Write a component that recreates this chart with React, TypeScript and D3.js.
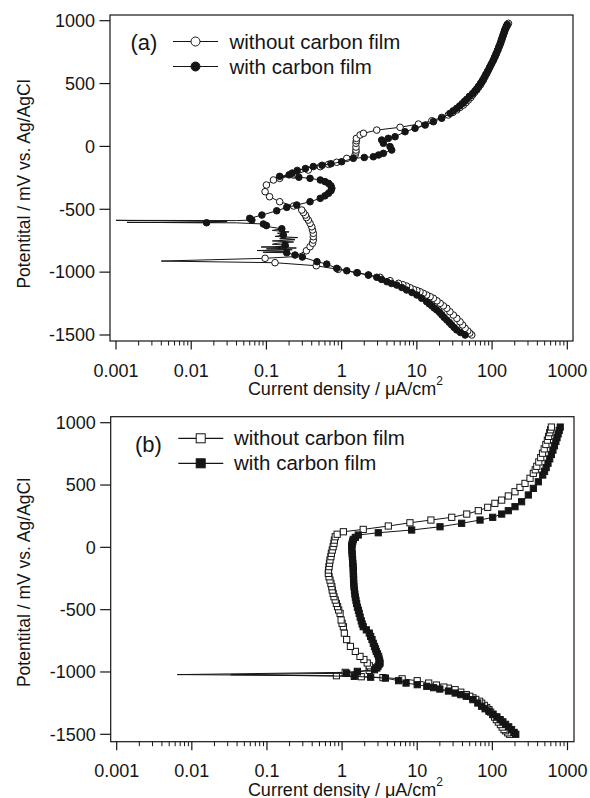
import React from "react";
import * as d3 from "d3";

type Pt = number[]; // [current µA/cm², potential mV, marker flag (0 = no marker)]

const xTickValues = [0.001, 0.01, 0.1, 1, 10, 100, 1000];
const xTickLabels = ["0.001", "0.01", "0.1", "1", "10", "100", "1000"];
const yTickValues = [1000, 500, 0, -500, -1000, -1500];
const yTickLabels = ["1000", "500", "0", "-500", "-1000", "-1500"];
const seriesNames = ["without carbon film", "with carbon film"];
const panelLabels = ["(a)", "(b)"];
const xTitle = "Current density / μA/cm";
const yTitle = "Potentital / mV vs. Ag/AgCl";

const aWithout: Pt[] = [
  [53.7, -1500], [50.5, -1485], [47.5, -1468], [43.8, -1447], [40.5, -1420], [37.5, -1395], [34, -1368],
  [30.5, -1341], [27.5, -1315], [25, -1288], [22.5, -1268], [20.4, -1248], [18.5, -1228], [16.6, -1208],
  [15, -1195], [13.5, -1182], [12.2, -1169], [11, -1156], [10, -1146], [9, -1137], [8.1, -1124], [7.3, -1111],
  [6.5, -1100], [5.7, -1089], [4.4, -1068], [3.24, -1041], [2.27, -1023], [1.59, -1005], [0.9, -978],
  [0.46, -949], [0.13, -925], [0.004, -912, 0], [0.096, -890], [0.23, -877, 0], [0.34, -830], [0.38, -798],
  [0.41, -770], [0.42, -745], [0.42, -718], [0.42, -691], [0.41, -665], [0.4, -639], [0.38, -612], [0.36, -586],
  [0.34, -566], [0.33, -546], [0.31, -526], [0.295, -506], [0.23, -474], [0.15, -440], [0.11, -400],
  [0.096, -360], [0.1, -307], [0.124, -267], [0.15, -254], [0.23, -228], [0.36, -188], [0.52, -161],
  [0.67, -143], [0.86, -126], [1.17, -95], [1.51, -68], [1.55, -45], [1.55, -29], [1.55, -5], [1.55, 25],
  [1.57, 45], [1.57, 64], [1.76, 91], [1.95, 104], [2.93, 130], [5.98, 152], [10.5, 178], [15.8, 204],
  [21.4, 231], [26.2, 250], [30, 270], [33.9, 290], [37.5, 310], [41.5, 329], [45, 349], [48.4, 369],
  [52, 389], [55, 409], [58.5, 429], [62.5, 449], [66, 469], [70, 490], [73, 509], [76.7, 528], [80.5, 554],
  [85, 580], [89.5, 607], [94, 634], [99.5, 662], [105, 690], [110, 716], [115, 741], [120, 768], [125, 795],
  [130, 820], [134.5, 846], [138, 868], [142, 890], [146, 910], [149, 926], [153, 942], [157, 955],
  [161, 968], [165, 979],
];

const aWith: Pt[] = [
  [43.8, -1500], [38, -1480], [33.9, -1460], [31.3, -1440], [29, -1420], [27, -1400], [25, -1381],
  [23, -1360], [21.5, -1340], [20, -1320], [18.4, -1301], [17, -1285], [15.8, -1268], [14.6, -1252],
  [13.5, -1235], [11.6, -1208], [10, -1182], [8.6, -1162], [7.3, -1142], [6.3, -1122], [5.4, -1103],
  [4.6, -1090], [4.0, -1076], [3.4, -1058], [2.93, -1041], [2.27, -1023], [1.62, -1005], [1.17, -989],
  [0.86, -970], [0.634, -936], [0.47, -917], [0.3, -880], [0.24, -864], [0.186, -846],
  [0.09, -842, 0], [0.2, -836, 0], [0.075, -828, 0], [0.22, -822, 0], [0.1, -815, 0], [0.25, -808, 0],
  [0.085, -800, 0], [0.2, -794, 0], [0.177, -785], [0.12, -778, 0], [0.14, -770, 0], [0.23, -760, 0],
  [0.12, -752, 0], [0.24, -742, 0], [0.15, -734, 0], [0.26, -725, 0], [0.13, -716, 0], [0.168, -705],
  [0.14, -690, 0], [0.2, -680, 0], [0.12, -668, 0], [0.16, -655], [0.11, -640, 0], [0.1, -630],
  [0.091, -617], [0.04, -608, 0], [0.0014, -604, 0], [0.016, -607], [0.03, -598, 0], [0.001, -588, 0],
  [0.04, -590, 0], [0.064, -586], [0.06, -572], [0.087, -546], [0.137, -512], [0.186, -485], [0.253, -466],
  [0.38, -440], [0.52, -413], [0.6, -393], [0.67, -373], [0.72, -353], [0.74, -333], [0.72, -313],
  [0.67, -294], [0.6, -280], [0.52, -267], [0.38, -254], [0.27, -245], [0.15, -238], [0.2, -226],
  [0.22, -212], [0.257, -191], [0.33, -176], [0.42, -160], [0.55, -150], [0.72, -138], [1.0, -122],
  [1.43, -95], [2.0, -88], [2.64, -82], [3.1, -68], [3.59, -55], [4.63, -29], [4.4, -2], [3.59, 25],
  [3.41, 51], [4.18, 64], [5.13, 77], [6.97, 117], [9.46, 144], [12.9, 170], [16.6, 197], [21.4, 224],
  [27.6, 263], [30.5, 283], [33.9, 303], [37, 322], [40, 340], [43, 358], [46, 375], [50, 398], [55, 420],
  [59, 440], [62.5, 458], [66, 478], [70, 500], [74, 522], [78, 545], [82, 570], [87, 597], [92, 625],
  [97, 652], [103, 682], [108, 710], [113, 738], [118, 765], [123, 792], [128, 818], [132, 842],
  [136, 864], [140, 886], [144, 906], [147, 924], [151, 940], [155, 956], [159, 970],
];

const bWithout: Pt[] = [
  [170, -1500], [160, -1488], [150, -1472], [143, -1462], [135, -1442], [128, -1422], [120, -1402],
  [113, -1382], [107, -1362], [101, -1342], [95, -1322], [90, -1302], [84, -1285], [78, -1268], [72, -1250],
  [67.6, -1235], [60, -1220], [55, -1208], [50, -1195], [45, -1182], [38, -1162], [31.9, -1142], [26, -1130],
  [22.6, -1121], [18, -1105], [14.2, -1089], [10, -1070], [6.3, -1055], [3.5, -1045], [1.8, -1038],
  [0.84, -1030], [0.0064, -1021, 0], [1.1, -1003], [1.6, -995], [2.3, -987], [2.4, -968], [2.3, -950],
  [2.16, -928], [1.95, -900], [1.73, -875], [1.5, -835], [1.29, -795], [1.15, -740], [1.07, -688],
  [1.04, -637], [1.0, -610], [0.97, -583], [0.94, -530], [0.9, -503], [0.87, -476], [0.84, -450],
  [0.81, -423], [0.78, -396], [0.76, -370], [0.74, -343], [0.73, -316], [0.71, -290], [0.69, -263],
  [0.67, -236], [0.656, -209], [0.66, -182], [0.67, -155], [0.68, -128], [0.69, -102], [0.71, -75],
  [0.72, -48], [0.74, -22], [0.76, 5], [0.78, 32], [0.79, 58], [0.81, 85], [0.86, 105], [1.04, 125],
  [1.91, 144], [4.12, 171], [8.0, 197], [15.2, 219], [28.8, 241], [45.6, 267], [65, 294], [86.7, 321],
  [108, 353], [133, 379], [163, 412], [200, 446], [233, 481], [272, 513], [317, 554], [351, 594],
  [372, 622], [390, 650], [415, 685], [440, 720], [465, 755], [490, 790], [515, 825], [540, 860],
  [560, 890], [580, 920], [595, 943], [610, 965],
];

const bWith: Pt[] = [
  [205, -1500], [195, -1485], [180, -1462], [165, -1440], [150, -1420], [138, -1400], [127, -1382],
  [115, -1360], [102, -1338], [90, -1315], [80, -1295], [72, -1275], [64, -1249], [55, -1222], [45, -1195],
  [38, -1182], [32, -1169], [26, -1153], [20, -1137], [16.5, -1126], [13.4, -1115], [10, -1102],
  [7.1, -1089], [5.65, -1070], [3.77, -1049], [2.4, -1042], [1.45, -1035], [0.033, -1022, 0],
  [1.15, -1010], [1.6, -1000], [2.7, -982], [2.9, -968], [3.0, -955], [3.1, -940], [3.2, -928],
  [3.15, -910], [3.1, -895], [3.06, -875], [2.95, -855], [2.85, -835], [2.78, -815], [2.7, -795],
  [2.6, -770], [2.5, -740], [2.4, -715], [2.3, -688], [2.1, -662], [1.91, -637], [1.85, -615], [1.8, -590],
  [1.74, -560], [1.69, -530], [1.65, -505], [1.6, -480], [1.56, -450], [1.53, -425], [1.5, -400],
  [1.48, -375], [1.46, -345], [1.44, -316], [1.43, -290], [1.42, -260], [1.42, -235], [1.41, -210],
  [1.41, -182], [1.4, -155], [1.39, -130], [1.38, -100], [1.37, -75], [1.36, -50], [1.35, -25], [1.34, 5],
  [1.35, 20], [1.37, 35], [1.39, 50], [1.41, 64], [1.5, 80], [1.64, 99], [3.03, 117], [8.43, 139],
  [20.1, 165], [39, 193], [68.5, 219], [101, 241], [133, 267], [163, 294], [200, 326], [245, 366],
  [301, 420], [351, 473], [409, 526], [468, 580], [495, 610], [520, 640], [550, 675], [580, 710],
  [610, 745], [640, 780], [670, 815], [700, 850], [725, 880], [750, 910], [775, 938], [800, 965],
];

const FONT = "'Liberation Sans', Arial, Helvetica, sans-serif";
const INK = "#151515";

type PanelCfg = {
  xr: [number, number];
  yr: [number, number];
  frame: { x0: number; x1: number; y0: number; y1: number };
  label: string;
  labelPos: [number, number];
  legend: { x0: number; x1: number; xm: number; rows: [number, number]; tx: number };
  yTitleY: number;
  tickBase: number;
  titleBase: number;
  shape: "circle" | "square";
  series: [Pt[], Pt[]];
};

function Marker({ shape, filled, cx, cy, s }: { shape: string; filled: boolean; cx: number; cy: number; s: number }) {
  if (shape === "circle") {
    return <circle cx={cx} cy={cy} r={s} fill={filled ? INK : "#fff"} stroke={INK} strokeWidth={1} />;
  }
  return <rect x={cx - s} y={cy - s} width={2 * s} height={2 * s} fill={filled ? INK : "#fff"} stroke={INK} strokeWidth={1} />;
}

function Panel({ cfg }: { cfg: PanelCfg }) {
  const x = d3.scaleLog().domain([0.001, 1000]).range(cfg.xr);
  const y = d3.scaleLinear().domain([1000, -1500]).range(cfg.yr);
  const line = d3
    .line<Pt>()
    .x((d) => x(d[0]))
    .y((d) => y(d[1]));
  const { x0, x1, y0, y1 } = cfg.frame;
  const minor: number[] = [];
  for (let e = -3; e < 3; e++) for (let k = 2; k <= 9; k++) minor.push(k * Math.pow(10, e));
  const ms = cfg.shape === "circle" ? 3.3 : 3.1;
  // open series first, filled series drawn on top
  const order: [Pt[], boolean][] = [
    [cfg.series[0], false],
    [cfg.series[1], true],
  ];
  return (
    <g>
      <rect x={x0} y={y0} width={x1 - x0} height={y1 - y0} fill="none" stroke={INK} strokeWidth={1.2} />
      {yTickValues.map((v, i) => (
        <g key={"y" + v}>
          <line x1={x0 - 10.5} x2={x0} y1={y(v)} y2={y(v)} stroke={INK} strokeWidth={1.2} />
          <text x={x0 - 15} y={y(v) + 6.3} fontSize={18} textAnchor="end" fill={INK} fontFamily={FONT}>
            {yTickLabels[i]}
          </text>
        </g>
      ))}
      {xTickValues.map((v, i) => (
        <g key={"x" + v}>
          <line x1={x(v)} x2={x(v)} y1={y1} y2={y1 + 8.5} stroke={INK} strokeWidth={1.2} />
          <text x={x(v)} y={cfg.tickBase} fontSize={18} textAnchor="middle" fill={INK} fontFamily={FONT}>
            {xTickLabels[i]}
          </text>
        </g>
      ))}
      {minor.map((v) => (
        <line key={"m" + v} x1={x(v)} x2={x(v)} y1={y1} y2={y1 + 4.5} stroke={INK} strokeWidth={1} />
      ))}
      <text x={443} y={cfg.titleBase} fontSize={18} textAnchor="end" fill={INK} fontFamily={FONT}>
        {xTitle}
        <tspan fontSize={12} dy={-10}>
          2
        </tspan>
      </text>
      <text
        transform={`translate(30,${cfg.yTitleY}) rotate(-90)`}
        fontSize={17.5}
        textAnchor="middle"
        fill={INK}
        fontFamily={FONT}
      >
        {yTitle}
      </text>
      {order.map(([data, filled], si) => (
        <g key={"s" + si}>
          <path d={line(data) || ""} fill="none" stroke={INK} strokeWidth={1} />
          {data
            .filter((d) => d[2] !== 0)
            .map((d, i) => (
              <Marker key={i} shape={cfg.shape} filled={filled} cx={x(d[0])} cy={y(d[1])} s={ms} />
            ))}
        </g>
      ))}
      <text x={cfg.labelPos[0]} y={cfg.labelPos[1]} fontSize={22} fill={INK} fontFamily={FONT}>
        {cfg.label}
      </text>
      {seriesNames.map((name, i) => (
        <g key={"l" + i}>
          <line x1={cfg.legend.x0} x2={cfg.legend.x1} y1={cfg.legend.rows[i]} y2={cfg.legend.rows[i]} stroke={INK} strokeWidth={1.2} />
          <Marker shape={cfg.shape} filled={i === 1} cx={cfg.legend.xm} cy={cfg.legend.rows[i]} s={4.5} />
          <text x={cfg.legend.tx} y={cfg.legend.rows[i] + 7} fontSize={20.5} fill={INK} fontFamily={FONT}>
            {name}
          </text>
        </g>
      ))}
    </g>
  );
}

const panelA: PanelCfg = {
  xr: [116, 567.3],
  yr: [20.7, 335],
  frame: { x0: 110, x1: 573, y0: 15, y1: 341 },
  label: panelLabels[0],
  labelPos: [130.5, 50],
  legend: { x0: 173, x1: 218, xm: 195.5, rows: [41.5, 66.5], tx: 229.5 },
  yTitleY: 184,
  tickBase: 376.5,
  titleBase: 395,
  shape: "circle",
  series: [aWithout, aWith],
};

const panelB: PanelCfg = {
  xr: [116.7, 567.5],
  yr: [422.7, 734.3],
  frame: { x0: 110.7, x1: 574, y0: 416.7, y1: 741.7 },
  label: panelLabels[1],
  labelPos: [135, 452],
  legend: { x0: 178.3, x1: 223.3, xm: 200.7, rows: [438.3, 463.3], tx: 234 },
  yTitleY: 582.5,
  tickBase: 777.3,
  titleBase: 795.5,
  shape: "square",
  series: [bWithout, bWith],
};

export default function App() {
  return (
    <svg
      width={590}
      height={798}
      viewBox="0 0 590 798"
      style={{ position: "absolute", left: 0, top: 0, background: "#fff" }}
    >
      <rect width={590} height={798} fill="#fff" />
      <Panel cfg={panelA} />
      <Panel cfg={panelB} />
    </svg>
  );
}
